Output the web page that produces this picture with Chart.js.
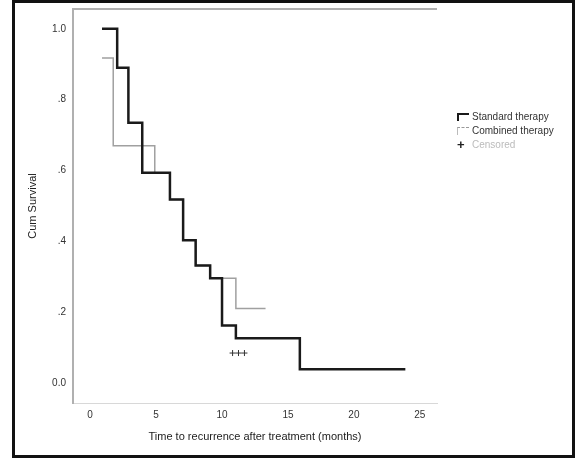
<!DOCTYPE html>
<html>
<head>
<meta charset="utf-8">
<script src="https://cdn.jsdelivr.net/npm/chart.js@4/dist/chart.umd.min.js"></script>
<style>
  html, body { margin:0; padding:0; background:#fff; }
  #wrap { position:relative; width:577px; height:462px; font-family:"Liberation Sans", Arial, sans-serif; }
  #frame { position:absolute; left:12px; top:0; width:557px; height:452px; border:3px solid #111; pointer-events:none; }
  #legend { position:absolute; left:457px; top:110px; font-size:10px; color:#333; line-height:14px; }
  #legend .row { display:flex; align-items:center; white-space:nowrap; }
  #legend .sym { display:inline-block; width:12px; height:8px; margin-right:3px; box-sizing:border-box; }
</style>
</head>
<body>
<div id="wrap">
  <canvas id="km" width="577" height="462"></canvas>
  <div id="frame"></div>
  <div id="legend"></div>
</div>
<script>
// ===== データ =====
const timesA = [0.9, 2.05, 2.9, 3.95, 6.05, 7.05, 8.0, 9.1, 10.0, 11.05, 15.9, 23.9];
const survA  = [1.0, 0.89, 0.735, 0.594, 0.518, 0.403, 0.332, 0.296, 0.163, 0.127, 0.039, 0.039];
const timesB = [0.9, 1.75, 4.9, 6.05, 7.05, 8.0, 9.1, 11.05, 13.3];
const survB  = [0.918, 0.67, 0.594, 0.518, 0.403, 0.332, 0.296, 0.211, 0.211];
const censorX = [10.8, 11.25, 11.7];
const censorY = [0.085, 0.085, 0.085];
const xTicks = [0, 5, 10, 15, 20, 25];
const yTicks = [0, 0.2, 0.4, 0.6, 0.8, 1.0];
const seriesNames = ['Standard therapy', 'Combined therapy', 'Censored'];

const toPts = (xs, ys) => xs.map((x, i) => ({ x, y: ys[i] }));

// 上の枠線
const framePlugin = {
  id: 'frameLines',
  afterDraw(chart){
    const { ctx, chartArea: a } = chart;
    ctx.save();
    ctx.strokeStyle = '#b0b0b0';
    ctx.lineWidth = 2;
    ctx.beginPath();
    ctx.moveTo(a.left, a.top); ctx.lineTo(a.right, a.top);
    ctx.stroke();
    ctx.restore();
  }
};

const chart = new Chart(document.getElementById('km'), {
  type: 'line',
  data: {
    datasets: [
      { label: seriesNames[0], data: toPts(timesA, survA), stepped: 'before',
        borderColor: '#1a1a1a', borderWidth: 2.5, pointRadius: 0, fill: false },
      { label: seriesNames[1], data: toPts(timesB, survB), stepped: 'before',
        borderColor: '#a0a0a0', borderWidth: 1.5, pointRadius: 0, fill: false },
      { label: seriesNames[2], type: 'scatter', data: toPts(censorX, censorY),
        pointStyle: 'cross', pointRadius: 3, borderColor: '#333', borderWidth: 1, showLine: false }
    ]
  },
  options: {
    responsive: false,
    animation: false,
    layout: { padding: { left: 22, top: 8, right: 140, bottom: 14 } },
    plugins: { legend: { display: false }, tooltip: { enabled: false } },
    scales: {
      x: {
        type: 'linear', min: -1.3, max: 26.3,
        afterBuildTicks: s => { s.ticks = xTicks.map(v => ({ value: v })); },
        afterFit: s => { s.height = 45; },
        grid: { display: false, drawTicks: true, tickLength: 4, tickColor: '#999' },
        border: { display: true, color: '#d8d8d8', width: 1 },
        ticks: { color: '#333', font: { size: 10, family: 'Liberation Sans' }, padding: 2, maxRotation: 0 },
        title: { display: true, text: 'Time to recurrence after treatment (months)',
                 color: '#222', font: { size: 11, family: 'Liberation Sans' }, padding: { top: 6 } }
      },
      y: {
        type: 'linear', min: -0.056, max: 1.056,
        afterBuildTicks: s => { s.ticks = yTicks.map(v => ({ value: v })); },
        afterFit: s => { s.width = 51; },
        grid: { display: false, drawTicks: true, tickLength: 4, tickColor: '#999' },
        border: { display: true, color: '#b0b0b0', width: 2 },
        ticks: { color: '#333', font: { size: 10, family: 'Liberation Sans' }, padding: 3,
                 callback: v => v === 0 ? '0.0' : (v === 1 ? '1.0' : String(v.toFixed(1)).replace(/^0/, '')) },
        title: { display: true, text: 'Cum Survival', color: '#222',
                 font: { size: 11, family: 'Liberation Sans' }, padding: { bottom: 4 } }
      }
    }
  },
  plugins: [framePlugin]
});

// ===== 凡例 =====
const legendEl = document.getElementById('legend');
const symStyles = [
  'border-top:2px solid #1a1a1a;border-left:2px solid #1a1a1a;',
  'border-top:1px dashed #999;border-left:1px solid #bbb;',
  ''
];
seriesNames.forEach((name, i) => {
  const row = document.createElement('div');
  row.className = 'row';
  const sym = document.createElement('span');
  sym.className = 'sym';
  if (i === 2) { sym.textContent = '+'; sym.style.cssText = 'height:auto;font-size:13px;font-weight:bold;color:#222;line-height:12px;'; }
  else sym.style.cssText = symStyles[i];
  row.appendChild(sym);
  const t = document.createElement('span');
  t.textContent = name;
  if (i === 2) t.style.color = '#bbb';
  row.appendChild(t);
  legendEl.appendChild(row);
});
</script>
</body>
</html>
